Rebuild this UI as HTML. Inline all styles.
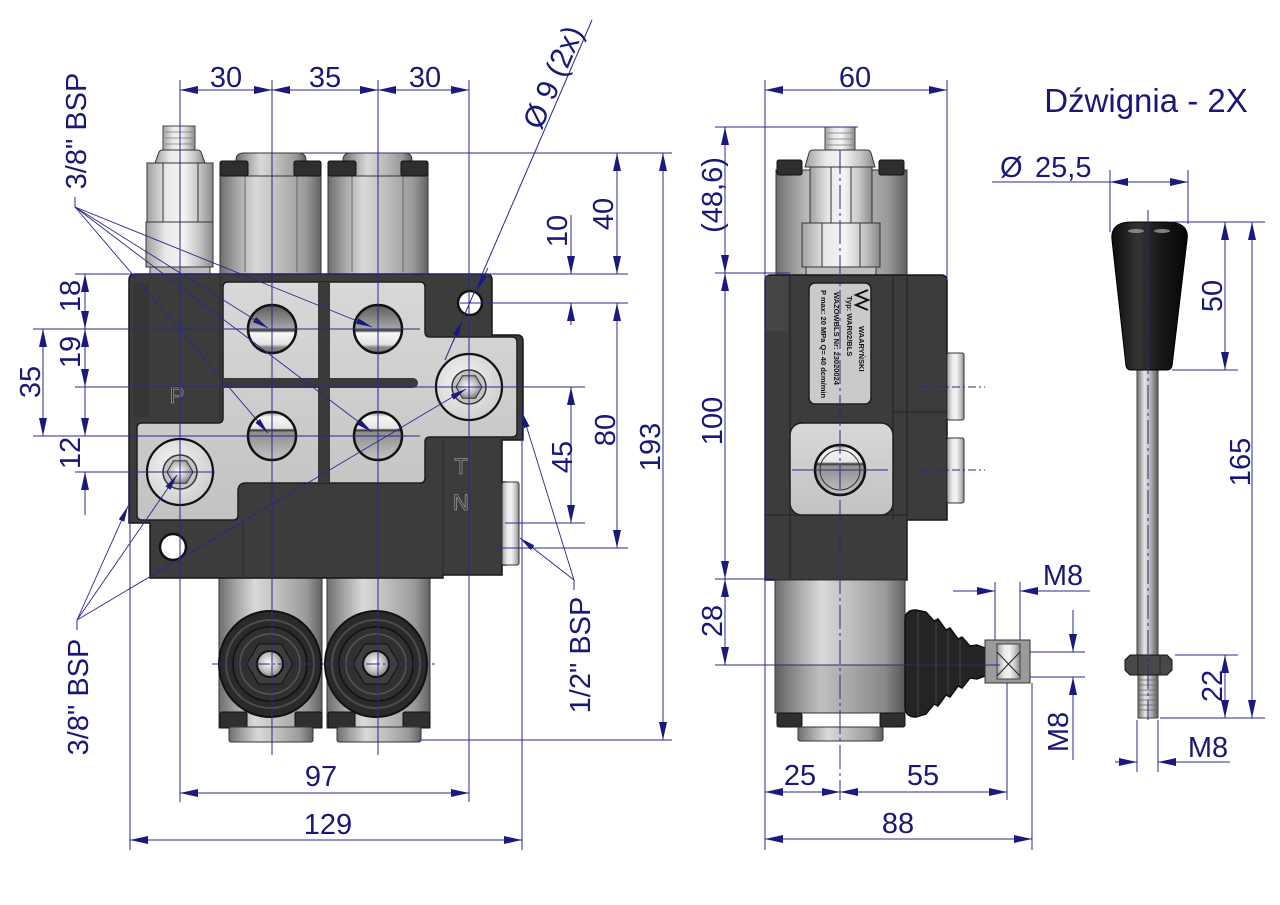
<!DOCTYPE html>
<html><head><meta charset="utf-8">
<style>
html,body{margin:0;padding:0;background:#fff;}
svg{display:block;}
text{font-family:"Liberation Sans",Arial,sans-serif;}
</style></head><body>
<svg width="1280" height="905" viewBox="0 0 1280 905" xmlns="http://www.w3.org/2000/svg">
<defs>
<marker id="ar" viewBox="0 0 18 8" refX="18" refY="4" markerWidth="18" markerHeight="8" markerUnits="userSpaceOnUse" orient="auto-start-reverse"><path d="M0,0 L18,4 L0,8 z" fill="#1a1a7e"/></marker>
<marker id="al" viewBox="0 0 16 6" refX="16" refY="3" markerWidth="16" markerHeight="6" markerUnits="userSpaceOnUse" orient="auto"><path d="M0,0 L16,3 L0,6 z" fill="#1a1a7e"/></marker>
<linearGradient id="cyl" x1="0" x2="1" y1="0" y2="0">
<stop offset="0" stop-color="#6e6e6e"/><stop offset="0.18" stop-color="#a9a9a9"/><stop offset="0.35" stop-color="#d9d9d9"/><stop offset="0.6" stop-color="#bcbcbc"/><stop offset="0.85" stop-color="#9a9a9a"/><stop offset="1" stop-color="#626262"/></linearGradient>
<linearGradient id="cylL" x1="0" x2="1" y1="0" y2="0">
<stop offset="0" stop-color="#a0a0a0"/><stop offset="0.3" stop-color="#e9e9e9"/><stop offset="0.55" stop-color="#f4f4f4"/><stop offset="0.8" stop-color="#c4c4c4"/><stop offset="1" stop-color="#8a8a8a"/></linearGradient>
<linearGradient id="plate" x1="0" x2="0" y1="0" y2="1">
<stop offset="0" stop-color="#d8d8d8"/><stop offset="1" stop-color="#c2c2c2"/></linearGradient>
<linearGradient id="portTop" x1="0" x2="0" y1="0" y2="1">
<stop offset="0" stop-color="#5c5c5c"/><stop offset="0.5" stop-color="#a8a8a8"/><stop offset="0.53" stop-color="#333"/><stop offset="0.58" stop-color="#f8f8f8"/><stop offset="0.82" stop-color="#e2e2e2"/><stop offset="0.88" stop-color="#888"/><stop offset="1" stop-color="#777"/></linearGradient>
<linearGradient id="portBot" x1="0" x2="0" y1="0" y2="1">
<stop offset="0" stop-color="#888"/><stop offset="0.1" stop-color="#f6f6f6"/><stop offset="0.34" stop-color="#e6e6e6"/><stop offset="0.38" stop-color="#333"/><stop offset="0.42" stop-color="#8e8e8e"/><stop offset="1" stop-color="#c4c4c4"/></linearGradient>
<radialGradient id="bolt" cx="0.4" cy="0.4" r="0.7">
<stop offset="0" stop-color="#f4f4f4"/><stop offset="1" stop-color="#cbcbcb"/></radialGradient>
<radialGradient id="ball" cx="0.45" cy="0.45" r="0.6">
<stop offset="0" stop-color="#ffffff"/><stop offset="0.6" stop-color="#bbb"/><stop offset="1" stop-color="#777"/></radialGradient>
<linearGradient id="knob" x1="0" x2="1" y1="0" y2="0">
<stop offset="0" stop-color="#0c0c0c"/><stop offset="0.35" stop-color="#343434"/><stop offset="0.6" stop-color="#1c1c1c"/><stop offset="1" stop-color="#050505"/></linearGradient>
<linearGradient id="rod" x1="0" x2="1" y1="0" y2="0">
<stop offset="0" stop-color="#6c6c6c"/><stop offset="0.35" stop-color="#e6e6e6"/><stop offset="0.6" stop-color="#bdbdbd"/><stop offset="1" stop-color="#5a5a5a"/></linearGradient>
</defs>

<!-- ================= FRONT VIEW ================= -->
<!-- relief valve -->
<rect x="163" y="126" width="32" height="25" fill="url(#cylL)" stroke="#444"/>
<g stroke="#777" stroke-width="0.8"><line x1="165" y1="132" x2="193" y2="132"/><line x1="165" y1="138" x2="193" y2="138"/><line x1="165" y1="144" x2="193" y2="144"/></g>
<path d="M155,163 L159,152 Q160,150 163,150 H197 Q200,150 201,152 L205,163 Z" fill="url(#cylL)" stroke="#333"/>
<rect x="147" y="163" width="66" height="59" fill="url(#cylL)" stroke="#333"/>
<line x1="163" y1="163" x2="163" y2="222" stroke="#333"/><line x1="198" y1="163" x2="198" y2="222" stroke="#333"/>
<rect x="146" y="222" width="67" height="45" fill="url(#cylL)" stroke="#333"/>
<line x1="180" y1="222" x2="180" y2="267" stroke="#444"/>
<rect x="150" y="267" width="60" height="7" fill="#bdbdbd" stroke="#333"/>

<!-- top spool caps -->
<rect x="220" y="174" width="101" height="100" fill="url(#cyl)" stroke="#333"/>
<line x1="245" y1="176" x2="245" y2="272" stroke="#555" stroke-width="0.8"/><line x1="297" y1="176" x2="297" y2="272" stroke="#555" stroke-width="0.8"/>
<path d="M236,176 V160 Q236,153 244,153 H298 Q306,153 306,160 V176 Z" fill="url(#cyl)" stroke="#333"/>
<rect x="220" y="161" width="28" height="15" rx="2" fill="#2e2e2e" stroke="#111"/>
<rect x="294" y="161" width="27" height="15" rx="2" fill="#2e2e2e" stroke="#111"/>
<rect x="328" y="174" width="100" height="100" fill="url(#cyl)" stroke="#333"/>
<line x1="352" y1="176" x2="352" y2="272" stroke="#555" stroke-width="0.8"/><line x1="403" y1="176" x2="403" y2="272" stroke="#555" stroke-width="0.8"/>
<path d="M343,176 V160 Q343,153 351,153 H404 Q412,153 412,160 V176 Z" fill="url(#cyl)" stroke="#333"/>
<rect x="328" y="161" width="28" height="15" rx="2" fill="#2e2e2e" stroke="#111"/>
<rect x="401" y="161" width="27" height="15" rx="2" fill="#2e2e2e" stroke="#111"/>

<!-- lower spools -->
<rect x="219" y="576" width="103" height="152" fill="url(#cyl)" stroke="#333"/>
<rect x="327" y="576" width="103" height="152" fill="url(#cyl)" stroke="#333"/>
<rect x="220" y="712" width="27" height="16" rx="2" fill="#2f2f2f" stroke="#111"/>
<rect x="295" y="712" width="27" height="16" rx="2" fill="#2f2f2f" stroke="#111"/>
<rect x="328" y="712" width="27" height="16" rx="2" fill="#2f2f2f" stroke="#111"/>
<rect x="403" y="712" width="27" height="16" rx="2" fill="#2f2f2f" stroke="#111"/>
<rect x="229" y="727" width="84" height="15" rx="2" fill="url(#cyl)" stroke="#333"/>
<rect x="337" y="727" width="84" height="15" rx="2" fill="url(#cyl)" stroke="#333"/>
<!-- boots -->
<g transform="translate(270,664)">
<ellipse rx="51" ry="53" fill="#2a2a2a" stroke="#111" stroke-width="2"/>
<circle r="44" fill="none" stroke="#4c4c4c" stroke-width="2"/>
<circle r="37" fill="#303030" stroke="#111" stroke-width="1.5"/>
<circle r="30" fill="none" stroke="#555" stroke-width="1.5"/>
<polygon points="23,0 11.5,20 -11.5,20 -23,0 -11.5,-20 11.5,-20" fill="#3e3e3e" stroke="#111"/>
<circle r="13" fill="url(#ball)" stroke="#111" stroke-width="2"/>
</g>
<g transform="translate(376,664)">
<ellipse rx="51" ry="53" fill="#2a2a2a" stroke="#111" stroke-width="2"/>
<circle r="44" fill="none" stroke="#4c4c4c" stroke-width="2"/>
<circle r="37" fill="#303030" stroke="#111" stroke-width="1.5"/>
<circle r="30" fill="none" stroke="#555" stroke-width="1.5"/>
<polygon points="23,0 11.5,20 -11.5,20 -23,0 -11.5,-20 11.5,-20" fill="#3e3e3e" stroke="#111"/>
<circle r="13" fill="url(#ball)" stroke="#111" stroke-width="2"/>
</g>

<!-- body -->
<path d="M129,280 Q129,274 135,274 H486 Q492,274 492,280 V335 H517 Q523,335 523,341 V440 H502 V482 H506 V565 H502 V575 H443 V578 H150 V523 H129 Z" fill="#3c3c3c" stroke="#161616" stroke-width="1.5"/>
<rect x="133" y="282" width="16" height="135" fill="#363636"/>
<line x1="220" y1="276" x2="220" y2="420" stroke="#2a2a2a"/>
<line x1="443" y1="440" x2="443" y2="575" stroke="#2a2a2a"/>
<line x1="243" y1="522" x2="243" y2="578" stroke="#2a2a2a"/>
<rect x="502" y="482" width="17" height="83" rx="2" fill="url(#cylL)" stroke="#333"/>
<!-- light plate -->
<path d="M223,287 Q223,282 228,282 H420 Q425,282 425,287 V332 Q425,337 430,337 H512 Q517,337 517,342 V432 Q517,437 512,437 H430 Q425,437 425,442 V478 Q425,483 420,483 H246 Q238,483 238,491 V515 Q238,520 233,520 H142 Q137,520 137,515 V428 Q137,423 142,423 H218 Q223,423 223,418 Z" fill="url(#plate)" stroke="#1e1e1e" stroke-width="1.5"/>
<rect x="318" y="282" width="12" height="201" fill="#3a3a3a"/>
<path d="M223,378 H413 A5,5 0 0 1 413,388 H223 Z" fill="#3a3a3a"/>
<!-- ports -->
<circle cx="272" cy="329" r="24" fill="url(#portTop)" stroke="#111" stroke-width="2.5"/>
<circle cx="378" cy="329" r="24" fill="url(#portTop)" stroke="#111" stroke-width="2.5"/>
<circle cx="272" cy="436" r="24" fill="url(#portBot)" stroke="#111" stroke-width="2.5"/>
<circle cx="378" cy="436" r="24" fill="url(#portBot)" stroke="#111" stroke-width="2.5"/>
<!-- bolts -->
<g transform="translate(469,387)">
<circle r="33" fill="url(#bolt)" stroke="#111" stroke-width="2.2"/>
<circle r="17" fill="#c4c4c4" stroke="#333" stroke-width="1.5"/>
<polygon points="13,0 6.5,11.3 -6.5,11.3 -13,0 -6.5,-11.3 6.5,-11.3" fill="url(#ball)" stroke="#333"/>
</g>
<g transform="translate(180,472)">
<circle r="33" fill="url(#bolt)" stroke="#111" stroke-width="2.2"/>
<circle r="17" fill="#c4c4c4" stroke="#333" stroke-width="1.5"/>
<polygon points="13,0 6.5,11.3 -6.5,11.3 -13,0 -6.5,-11.3 6.5,-11.3" fill="url(#ball)" stroke="#333"/>
</g>
<!-- holes -->
<circle cx="470" cy="303" r="12" fill="#fff" stroke="#111" stroke-width="2.5"/>
<circle cx="173" cy="547" r="13" fill="#fff" stroke="#111" stroke-width="2.5"/>
<!-- letters -->
<g font-size="22" fill="#2a2a2a" stroke="#999" stroke-width="0.8" text-anchor="middle">
<text x="177" y="403">P</text>
<text x="461" y="474">T</text>
<text x="461" y="510">N</text>
</g>

<!-- ================= SIDE VIEW ================= -->
<rect x="776" y="170" width="131" height="105" fill="url(#cyl)" stroke="#333"/>
<rect x="777" y="160" width="25" height="15" rx="2" fill="#2e2e2e" stroke="#111"/>
<rect x="879" y="160" width="25" height="15" rx="2" fill="#2e2e2e" stroke="#111"/>
<rect x="825" y="127" width="30" height="24" fill="url(#cylL)" stroke="#444"/>
<g stroke="#777" stroke-width="0.8"><line x1="827" y1="133" x2="853" y2="133"/><line x1="827" y1="139" x2="853" y2="139"/><line x1="827" y1="145" x2="853" y2="145"/></g>
<path d="M805,167 L809,153 Q810,150 813,150 H867 Q870,150 871,153 L875,167 Z" fill="url(#cylL)" stroke="#333"/>
<rect x="810" y="167" width="62" height="56" fill="url(#cylL)" stroke="#333"/>
<line x1="831" y1="167" x2="831" y2="223" stroke="#333"/><line x1="851" y1="167" x2="851" y2="223" stroke="#333"/>
<rect x="802" y="223" width="78" height="44" fill="url(#cylL)" stroke="#333"/>
<line x1="822" y1="223" x2="822" y2="267" stroke="#333"/><line x1="860" y1="223" x2="860" y2="267" stroke="#333"/>
<rect x="806" y="267" width="70" height="8" fill="#c0c0c0" stroke="#333"/>

<!-- side body -->
<path d="M765,281 Q765,275 771,275 H941 Q947,275 947,281 V520 H907 V580 H765 Z" fill="#3c3c3c" stroke="#161616" stroke-width="1.5"/>
<rect x="766" y="276" width="22" height="55" fill="#454545"/>
<g stroke="#262626" stroke-width="1.2">
<line x1="790" y1="276" x2="790" y2="580"/>
<line x1="893" y1="276" x2="893" y2="520"/>
<line x1="907" y1="276" x2="907" y2="580"/>
<line x1="893" y1="412" x2="947" y2="412"/>
<line x1="766" y1="515" x2="907" y2="515"/>
</g>
<rect x="947" y="353" width="17" height="67" rx="2" fill="url(#cylL)" stroke="#333"/>
<rect x="947" y="438" width="17" height="65" rx="2" fill="url(#cylL)" stroke="#333"/>
<!-- label -->
<rect x="809" y="283" width="62" height="121" rx="6" fill="#cacaca" stroke="#1e1e1e" stroke-width="1.5"/>
<g font-size="7.5" font-weight="bold" fill="#111">
<text transform="translate(859,326) rotate(90)">WAARYŃSKI</text>
<text transform="translate(847,296) rotate(90)">Typ: WAR02/BLS</text>
<text transform="translate(834,292) rotate(90)">WAZOWBLS Nr: 23020024</text>
<text transform="translate(821,290) rotate(90)">P max: 20 MPa  Q= 40 dcm/min</text>
</g>
<path d="M868,290 L856,295 L868,300 L856,305 L868,310" fill="none" stroke="#111" stroke-width="2"/>
<!-- port block -->
<rect x="790" y="423" width="103" height="92" rx="12" fill="url(#plate)" stroke="#1e1e1e" stroke-width="1.5"/>
<circle cx="840" cy="470" r="25" fill="url(#portBot)" stroke="#111" stroke-width="2.5"/>
<circle cx="840" cy="470" r="20" fill="none" stroke="#333" stroke-width="1"/>
<!-- lower spool side -->
<rect x="775" y="580" width="130" height="133" fill="url(#cyl)" stroke="#333"/>
<rect x="776" y="665" width="128" height="48" fill="#000" opacity="0.12"/>
<rect x="777" y="713" width="25" height="14" rx="2" fill="#2f2f2f" stroke="#111"/>
<rect x="880" y="713" width="25" height="14" rx="2" fill="#2f2f2f" stroke="#111"/>
<rect x="798" y="727" width="85" height="14" rx="2" fill="url(#cyl)" stroke="#333"/>
<!-- boot -->
<path d="M905,620 Q905,610 916,610 L926,612 L934,621 L938,619 L946,630 L950,628 L958,639 L962,637 L970,646 L977,645 L985,648 V676 L977,679 L970,678 L962,688 L958,686 L950,697 L946,695 L938,706 L934,704 L926,714 L916,717 Q905,717 905,707 Z" fill="#242424" stroke="#0e0e0e" stroke-width="1.5"/>
<g stroke="#444" stroke-width="1"><line x1="918" y1="612" x2="918" y2="716"/><line x1="936" y1="622" x2="936" y2="704"/><line x1="948" y1="631" x2="948" y2="694"/><line x1="960" y1="640" x2="960" y2="685"/></g>
<!-- connector -->
<rect x="985" y="640" width="45" height="43" fill="#9a9a9a" stroke="#333"/>
<rect x="997" y="644" width="23" height="35" fill="url(#cylL)" stroke="#444"/>
<line x1="997" y1="652" x2="1020" y2="676" stroke="#222"/><line x1="1020" y1="652" x2="1997" y2="676" stroke="none"/>
<line x1="1020" y1="652" x2="997" y2="676" stroke="#222"/>

<!-- ================= LEVER ================= -->
<rect x="1137" y="368" width="21" height="288" fill="url(#rod)" stroke="#444"/>
<path d="M1112,240 Q1110,222 1132,222 H1166 Q1190,222 1187,240 L1172,366 Q1171,370 1167,370 H1131 Q1127,370 1126,366 Z" fill="url(#knob)" stroke="#000"/>
<ellipse cx="1136" cy="231" rx="8" ry="2" fill="#9a9a9a" opacity="0.8"/>
<ellipse cx="1162" cy="231" rx="8" ry="2" fill="#9a9a9a" opacity="0.8"/>
<rect x="1138" y="674" width="20" height="44" fill="url(#rod)" stroke="#444"/>
<g stroke="#666" stroke-width="0.8">
<line x1="1138" y1="680" x2="1158" y2="680"/><line x1="1138" y1="685" x2="1158" y2="685"/><line x1="1138" y1="690" x2="1158" y2="690"/><line x1="1138" y1="695" x2="1158" y2="695"/><line x1="1138" y1="700" x2="1158" y2="700"/><line x1="1138" y1="705" x2="1158" y2="705"/><line x1="1138" y1="710" x2="1158" y2="710"/>
</g>
<polygon points="1125,660 1130,655 1167,655 1172,660 1172,670 1167,675 1130,675 1125,670" fill="#484848" stroke="#111"/>
<line x1="1138" y1="656" x2="1138" y2="674" stroke="#222"/><line x1="1160" y1="656" x2="1160" y2="674" stroke="#222"/>

<!-- ================= THIN LINES ================= -->
<g stroke="#28288c" stroke-width="1" fill="none">
<line x1="180" y1="80" x2="180" y2="802"/>
<line x1="272" y1="80" x2="272" y2="755"/>
<line x1="378" y1="80" x2="378" y2="755"/>
<line x1="469" y1="80" x2="469" y2="802"/>
<line x1="300" y1="153" x2="672" y2="153"/>
<line x1="75" y1="274" x2="628" y2="274"/>
<line x1="460" y1="303" x2="628" y2="303"/>
<line x1="33" y1="329" x2="420" y2="329"/>
<line x1="75" y1="387" x2="585" y2="387"/>
<line x1="33" y1="436" x2="420" y2="436"/>
<line x1="75" y1="472" x2="215" y2="472"/>
<line x1="505" y1="523" x2="585" y2="523"/>
<line x1="500" y1="548" x2="628" y2="548"/>
<line x1="420" y1="740" x2="672" y2="740"/>
<line x1="130" y1="478" x2="130" y2="850"/>
<line x1="522" y1="405" x2="522" y2="850"/>
<line x1="212" y1="664" x2="435" y2="664" stroke-dasharray="14,3,2,3"/>
<!-- side -->
<line x1="765" y1="80" x2="765" y2="850"/>
<line x1="947" y1="80" x2="947" y2="280"/>
<line x1="715" y1="127" x2="858" y2="127"/>
<line x1="715" y1="273" x2="790" y2="273"/>
<line x1="715" y1="579" x2="775" y2="579"/>
<line x1="715" y1="665" x2="1000" y2="665"/>
<line x1="840" y1="150" x2="840" y2="800" stroke-dasharray="24,4,3,4"/>
<line x1="920" y1="387" x2="985" y2="387" stroke-dasharray="8,3,2,3"/>
<line x1="920" y1="470" x2="985" y2="470" stroke-dasharray="8,3,2,3"/>
<line x1="792" y1="470" x2="888" y2="470"/>
<line x1="1007" y1="683" x2="1007" y2="800"/>
<line x1="1032" y1="683" x2="1032" y2="850"/>
<line x1="995" y1="582" x2="995" y2="640"/>
<line x1="1020" y1="582" x2="1020" y2="640"/>
<line x1="1030" y1="652" x2="1085" y2="652"/>
<line x1="1030" y1="677" x2="1085" y2="677"/>
<!-- lever -->
<line x1="1110" y1="170" x2="1110" y2="232"/>
<line x1="1188" y1="170" x2="1188" y2="224"/>
<line x1="1172" y1="222" x2="1265" y2="222"/>
<line x1="1172" y1="370" x2="1238" y2="370"/>
<line x1="1175" y1="655" x2="1238" y2="655"/>
<line x1="1160" y1="718" x2="1265" y2="718"/>
<line x1="1137" y1="720" x2="1137" y2="772"/>
<line x1="1158" y1="720" x2="1158" y2="772"/>
<line x1="1148" y1="210" x2="1148" y2="720" stroke-dasharray="24,4,3,4"/>
<line x1="992" y1="182" x2="1110" y2="182"/>
<!-- leader ticks -->
<line x1="75" y1="197" x2="75" y2="207"/>
<line x1="77" y1="620" x2="77" y2="630"/>
<line x1="574" y1="580" x2="574" y2="590"/>
<line x1="592" y1="20" x2="445" y2="360"/>
</g>

<!-- dims both arrows -->
<g stroke="#28288c" stroke-width="1" marker-start="url(#ar)" marker-end="url(#ar)">
<line x1="180" y1="90" x2="272" y2="90"/>
<line x1="272" y1="90" x2="378" y2="90"/>
<line x1="378" y1="90" x2="469" y2="90"/>
<line x1="617" y1="153" x2="617" y2="274"/>
<line x1="571" y1="387" x2="571" y2="523"/>
<line x1="617" y1="303" x2="617" y2="548"/>
<line x1="663" y1="153" x2="663" y2="740"/>
<line x1="85" y1="274" x2="85" y2="329"/>
<line x1="85" y1="329" x2="85" y2="387"/>
<line x1="43" y1="329" x2="43" y2="436"/>
<line x1="180" y1="793" x2="469" y2="793"/>
<line x1="130" y1="840" x2="522" y2="840"/>
<line x1="765" y1="90" x2="947" y2="90"/>
<line x1="725" y1="127" x2="725" y2="273"/>
<line x1="725" y1="273" x2="725" y2="579"/>
<line x1="725" y1="579" x2="725" y2="665"/>
<line x1="765" y1="792" x2="840" y2="792"/>
<line x1="840" y1="792" x2="1007" y2="792"/>
<line x1="765" y1="839" x2="1032" y2="839"/>
<line x1="1110" y1="182" x2="1188" y2="182"/>
<line x1="1225" y1="222" x2="1225" y2="370"/>
<line x1="1252" y1="222" x2="1252" y2="718"/>
<line x1="1225" y1="655" x2="1225" y2="718"/>
</g>
<!-- single arrows -->
<g stroke="#28288c" stroke-width="1" marker-end="url(#ar)">
<line x1="571" y1="215" x2="571" y2="274"/>
<line x1="571" y1="325" x2="571" y2="303"/>
<line x1="85" y1="387" x2="85" y2="436"/>
<line x1="85" y1="515" x2="85" y2="472"/>
<line x1="953" y1="591" x2="995" y2="591"/>
<line x1="1090" y1="591" x2="1020" y2="591"/>
<line x1="1073" y1="610" x2="1073" y2="652"/>
<line x1="1073" y1="760" x2="1073" y2="677"/>
<line x1="1115" y1="762" x2="1137" y2="762"/>
<line x1="1230" y1="762" x2="1158" y2="762"/>
</g>
<!-- leaders -->
<g stroke="#28288c" stroke-width="0.9" fill="none" marker-end="url(#al)">
<line x1="75" y1="207" x2="268" y2="328"/>
<line x1="75" y1="207" x2="372" y2="327"/>
<line x1="75" y1="207" x2="268" y2="433"/>
<line x1="75" y1="207" x2="372" y2="432"/>
<line x1="77" y1="620" x2="128" y2="506"/>
<line x1="77" y1="620" x2="177" y2="475"/>
<line x1="77" y1="620" x2="466" y2="389"/>
<line x1="574" y1="580" x2="522" y2="412"/>
<line x1="574" y1="580" x2="520" y2="538"/>
<line x1="488" y1="268" x2="477" y2="290"/>
<line x1="453" y1="342" x2="462" y2="321"/>
</g>

<!-- ================= TEXT ================= -->
<g font-size="29" fill="#181878" text-anchor="middle">
<text x="226" y="87">30</text>
<text x="325" y="87">35</text>
<text x="425" y="87">30</text>
<text x="321" y="786">97</text>
<text x="328" y="834">129</text>
<text x="855" y="87">60</text>
<text x="800" y="785">25</text>
<text x="923" y="785">55</text>
<text x="898" y="833">88</text>
<text x="1063" y="585">M8</text>
<text x="1208" y="757">M8</text>
<text transform="translate(86,131) rotate(-90)">3/8" BSP</text>
<text transform="translate(80,296) rotate(-90)">18</text>
<text transform="translate(80,352) rotate(-90)">19</text>
<text transform="translate(40,382) rotate(-90)">35</text>
<text transform="translate(80,453) rotate(-90)">12</text>
<text transform="translate(88,697) rotate(-90)">3/8" BSP</text>
<text transform="translate(567,231) rotate(-90)">10</text>
<text transform="translate(613,214) rotate(-90)">40</text>
<text transform="translate(572,457) rotate(-90)">45</text>
<text transform="translate(615,430) rotate(-90)">80</text>
<text transform="translate(660,447) rotate(-90)">193</text>
<text transform="translate(590,655) rotate(-90)">1/2" BSP</text>
<text transform="translate(722,195) rotate(-90)">(48,6)</text>
<text transform="translate(722,421) rotate(-90)">100</text>
<text transform="translate(722,621) rotate(-90)">28</text>
<text transform="translate(1068,732) rotate(-90)">M8</text>
<text transform="translate(1222,296) rotate(-90)">50</text>
<text transform="translate(1250,462) rotate(-90)">165</text>
<text transform="translate(1222,686) rotate(-90)">22</text>
</g>
<text transform="translate(541,131) rotate(-66.8)" font-size="30" fill="#181878">Ø 9 (2x)</text>
<text x="1000" y="177" font-size="29" fill="#181878">Ø</text>
<text x="1035" y="177" font-size="29" fill="#181878">25,5</text>
<text x="1146" y="112" font-size="33" fill="#181878" text-anchor="middle">Dźwignia - 2X</text>
</svg>
</body></html>
